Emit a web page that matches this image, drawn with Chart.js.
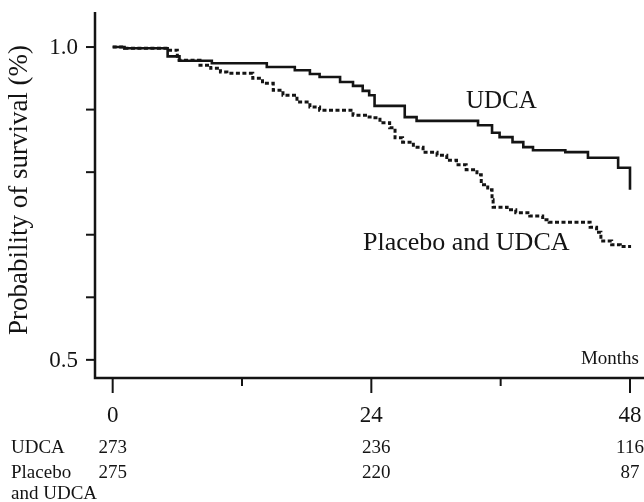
<!DOCTYPE html>
<html>
<head>
<meta charset="utf-8">
<script src="https://cdn.jsdelivr.net/npm/chart.js@4.4.1/dist/chart.umd.min.js"></script>
<style>
  html, body { margin: 0; padding: 0; background: #fff; }
  #wrap { width: 644px; height: 502px; }
</style>
</head>
<body>
<div id="wrap"><canvas id="kmChart" width="644" height="502"></canvas></div>
<script>
// Kaplan-Meier steps: month of each step and survival after it
const udcaMonths = [0, 1.1, 5.1, 6.2, 9.2, 14.3, 16.9, 18.3, 19.2, 21.1, 22.3, 23.2, 23.8, 24.3, 27.1, 28.2, 33.9, 35.2, 35.9, 37.1, 38.1, 39.0, 42.0, 44.1, 46.9, 48.0];
const udcaSurvival = [1.0, 0.998, 0.985, 0.978, 0.974, 0.968, 0.963, 0.957, 0.952, 0.944, 0.938, 0.930, 0.923, 0.906, 0.888, 0.882, 0.875, 0.863, 0.856, 0.848, 0.840, 0.835, 0.832, 0.823, 0.807, 0.772];

const placeboMonths = [0, 1.1, 5.1, 6.0, 8.1, 9.1, 10.0, 10.6, 13.0, 13.9, 14.9, 15.8, 17.1, 18.3, 19.2, 22.3, 23.6, 24.1, 24.8, 25.7, 26.2, 26.9, 27.9, 28.8, 30.1, 31.0, 31.9, 32.8, 33.8, 34.2, 34.8, 35.2, 35.3, 36.6, 37.4, 38.7, 39.9, 40.5, 44.3, 44.9, 45.3, 46.3, 47.1, 48.1];
const placeboSurvival = [1.0, 0.998, 0.995, 0.979, 0.971, 0.966, 0.960, 0.958, 0.950, 0.942, 0.931, 0.923, 0.912, 0.904, 0.899, 0.891, 0.888, 0.887, 0.879, 0.871, 0.855, 0.848, 0.840, 0.832, 0.827, 0.819, 0.812, 0.804, 0.796, 0.780, 0.772, 0.756, 0.744, 0.740, 0.735, 0.730, 0.724, 0.720, 0.712, 0.704, 0.690, 0.684, 0.681, 0.681];

const xTicks = [0, 12, 24, 36, 48];
const xTickLabels = ['0', '', '24', '', '48'];
const yTicks = [0.5, 0.6, 0.7, 0.8, 0.9, 1.0];
const yTickLabels = ['0.5', '', '', '', '', '1.0'];

// numbers at risk
const riskMonths = [0, 24, 48];
const riskUdca = [273, 236, 116];
const riskPlacebo = [275, 220, 87];

const SERIF = '"Liberation Serif", "DejaVu Serif", serif';
const INK = '#141414';

const toPoints = (xs, ys) => xs.map((m, i) => ({ x: m, y: ys[i] }));

// axes, ticks and all the text are drawn here
const kmDecor = {
  id: 'kmDecor',
  afterDraw(chart) {
    const { ctx, chartArea: a, scales: { x, y } } = chart;
    ctx.save();
    ctx.strokeStyle = INK;
    ctx.fillStyle = INK;

    // axis lines
    ctx.lineWidth = 2.5;
    ctx.beginPath();
    ctx.moveTo(a.left, a.top);
    ctx.lineTo(a.left, a.bottom);
    ctx.lineTo(chart.width, a.bottom);
    ctx.stroke();

    // y ticks + labels
    ctx.lineWidth = 2;
    ctx.font = '23px ' + SERIF;
    ctx.textAlign = 'right';
    ctx.textBaseline = 'middle';
    yTicks.forEach((v, i) => {
      const py = y.getPixelForValue(v);
      ctx.beginPath();
      ctx.moveTo(a.left - 9, py);
      ctx.lineTo(a.left, py);
      ctx.stroke();
      if (yTickLabels[i]) ctx.fillText(yTickLabels[i], 78, py + 1);
    });

    // x ticks + labels
    ctx.textAlign = 'center';
    ctx.textBaseline = 'alphabetic';
    xTicks.forEach((v, i) => {
      const px = x.getPixelForValue(v);
      const len = xTickLabels[i] ? 15 : 8;
      ctx.beginPath();
      ctx.moveTo(px, a.bottom);
      ctx.lineTo(px, a.bottom + len);
      ctx.stroke();
      if (xTickLabels[i]) ctx.fillText(xTickLabels[i], px, 422);
    });

    // y axis title
    ctx.save();
    ctx.font = '27px ' + SERIF;
    ctx.translate(27, 190);
    ctx.rotate(-Math.PI / 2);
    ctx.textAlign = 'center';
    ctx.fillText('Probability of survival (%)', 0, 0);
    ctx.restore();

    // curve labels
    ctx.font = '25px ' + SERIF;
    ctx.textAlign = 'left';
    ctx.fillText('UDCA', 466, 108);
    ctx.font = '26px ' + SERIF;
    ctx.fillText('Placebo and UDCA', 363, 250);

    ctx.font = '19px ' + SERIF;
    ctx.textAlign = 'right';
    ctx.fillText('Months', 639, 364);

    // numbers at risk table
    ctx.font = '19px ' + SERIF;
    ctx.textAlign = 'left';
    ctx.fillText('UDCA', 11, 453);
    ctx.fillText('Placebo', 11, 478);
    ctx.fillText('and UDCA', 11, 499);
    ctx.textAlign = 'center';
    riskMonths.forEach((m, i) => {
      const px = x.getPixelForValue(m) + (i === 1 ? 5 : 0);
      ctx.fillText(String(riskUdca[i]), px, 453);
      ctx.fillText(String(riskPlacebo[i]), px, 478);
    });

    ctx.restore();
  }
};

new Chart(document.getElementById('kmChart'), {
  type: 'line',
  data: {
    datasets: [
      {
        label: 'Placebo and UDCA',
        data: toPoints(placeboMonths, placeboSurvival),
        stepped: 'before',
        borderColor: INK,
        borderWidth: 3,
        borderDash: [4, 2.5],
        pointRadius: 0,
        fill: false
      },
      {
        label: 'UDCA',
        data: toPoints(udcaMonths, udcaSurvival),
        stepped: 'before',
        borderColor: INK,
        borderWidth: 2.6,
        pointRadius: 0,
        fill: false
      }
    ]
  },
  options: {
    responsive: false,
    animation: false,
    devicePixelRatio: 1,
    layout: { padding: { left: 95, top: 12, right: 0, bottom: 124 } },
    plugins: { legend: { display: false }, tooltip: { enabled: false } },
    scales: {
      x: { type: 'linear', min: -1.64, max: 49.3, display: false },
      y: { type: 'linear', min: 0.471, max: 1.056, display: false }
    }
  },
  plugins: [kmDecor]
});
</script>
</body>
</html>
